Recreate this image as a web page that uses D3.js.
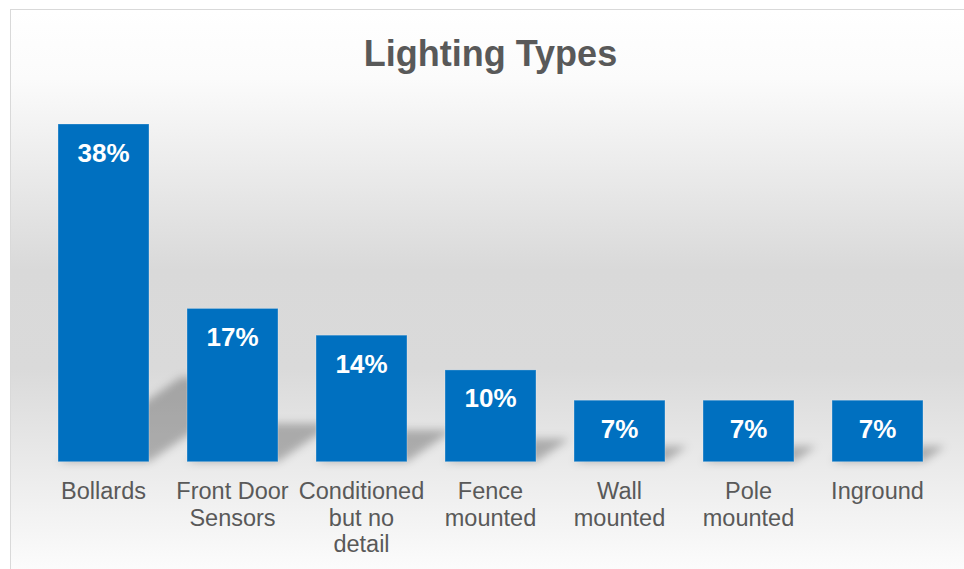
<!DOCTYPE html>
<html>
<head>
<meta charset="utf-8">
<script src="https://cdn.jsdelivr.net/npm/d3@7"></script>
<style>
  body { margin: 0; background: #ffffff; }
  svg { display: block; }
</style>
</head>
<body>
<div id="chart-div"></div>
<script>
// data (percent of responses)
var categories = ["Bollards", "Front Door Sensors", "Conditioned but no detail", "Fence mounted", "Wall mounted", "Pole mounted", "Inground"];
var catLines = [["Bollards"], ["Front Door", "Sensors"], ["Conditioned", "but no", "detail"], ["Fence", "mounted"], ["Wall", "mounted"], ["Pole", "mounted"], ["Inground"]];
var values = [37.9, 17.2, 14.2, 10.3, 6.9, 6.9, 6.9];
var title = "Lighting Types";

var width = 964, height = 569;
var svg = d3.select("#chart-div").append("svg")
    .attr("width", width)
    .attr("height", height);

var defs = svg.append("defs");

// background: white at top, grey in the middle, white again at the bottom
var bg = defs.append("linearGradient").attr("id", "bg")
    .attr("x1", "0%").attr("x2", "0%").attr("y1", "0%").attr("y2", "100%");
bg.append("stop").attr("offset", "0%").style("stop-color", "#ffffff");
bg.append("stop").attr("offset", "12%").style("stop-color", "#fbfbfb");
bg.append("stop").attr("offset", "45%").style("stop-color", "#d9d9d9");
bg.append("stop").attr("offset", "62%").style("stop-color", "#dadada");
bg.append("stop").attr("offset", "100%").style("stop-color", "#ffffff");

var blur = defs.append("filter").attr("id", "shadowBlur")
    .attr("x", "-50%").attr("y", "-50%").attr("width", "200%").attr("height", "200%");
blur.append("feGaussianBlur").attr("stdDeviation", 4);

// chart frame (runs past the right and bottom of the window)
svg.append("rect")
    .attr("x", 10.5).attr("y", 9.5)
    .attr("width", 970).attr("height", 580)
    .style("fill", "url(#bg)")
    .style("stroke", "#d9d9d9")
    .style("stroke-width", 1);

svg.append("text")
    .attr("x", 490.5).attr("y", 66)
    .attr("text-anchor", "middle")
    .style("font-family", "Liberation Sans, Arial, sans-serif")
    .style("font-weight", "bold")
    .style("font-size", "36px")
    .style("fill", "#595959")
    .text(title);

var x = d3.scaleBand()
    .domain(categories)
    .range([39, 942])
    .paddingInner(0.295)
    .paddingOuter(0.1475);

var y = d3.scaleLinear()
    .domain([0, 40])
    .range([461.7, 461.7 - 40 * 8.91]);

// perspective shadow: bar squashed to 25% height and skewed to the right
var SY = 0.25, KX = Math.tan(20 * Math.PI / 180);
var shadowGen = d3.line();
svg.append("g").attr("filter", "url(#shadowBlur)")
  .selectAll("path")
  .data(values)
  .join("path")
    .attr("d", function(v, i) {
        var x0 = x(categories[i]), x1 = x0 + x.bandwidth();
        var base = y(0), h = y(0) - y(v);
        var top = base - h * SY, dx = h * KX;
        return shadowGen([[x0, base], [x1, base], [x1 + dx, top], [x0 + dx, top]]) + "Z";
    })
    .style("fill", "#000000")
    .style("opacity", 0.26);

svg.append("g")
  .selectAll("rect")
  .data(values)
  .join("rect")
    .attr("x", function(v, i) { return x(categories[i]); })
    .attr("y", function(v) { return y(v); })
    .attr("width", x.bandwidth())
    .attr("height", function(v) { return y(0) - y(v); })
    .style("fill", "#0070c0")
    .style("stroke", "rgba(255,255,255,0.25)")
    .style("stroke-width", 1);

// value labels inside the top of each bar
svg.append("g")
  .selectAll("text")
  .data(values)
  .join("text")
    .attr("x", function(v, i) { return x(categories[i]) + x.bandwidth() / 2; })
    .attr("y", function(v) { return y(v) + 37.5; })
    .attr("text-anchor", "middle")
    .style("font-family", "Liberation Sans, Arial, sans-serif")
    .style("font-weight", "bold")
    .style("font-size", "26px")
    .style("fill", "#ffffff")
    .text(function(v) { return Math.round(v) + "%"; });

// category labels, wrapped as in the original
var cat = svg.append("g")
  .selectAll("text")
  .data(catLines)
  .join("text")
    .attr("x", function(d, i) { return x(categories[i]) + x.bandwidth() / 2; })
    .attr("y", 499)
    .attr("text-anchor", "middle")
    .style("font-family", "Liberation Sans, Arial, sans-serif")
    .style("font-size", "23.5px")
    .style("fill", "#595959");

cat.selectAll("tspan")
  .data(function(d) { return d; })
  .join("tspan")
    .attr("x", function() { return d3.select(this.parentNode).attr("x"); })
    .attr("dy", function(d, j) { return j === 0 ? 0 : 26.7; })
    .text(function(d) { return d; });
</script>
</body>
</html>
